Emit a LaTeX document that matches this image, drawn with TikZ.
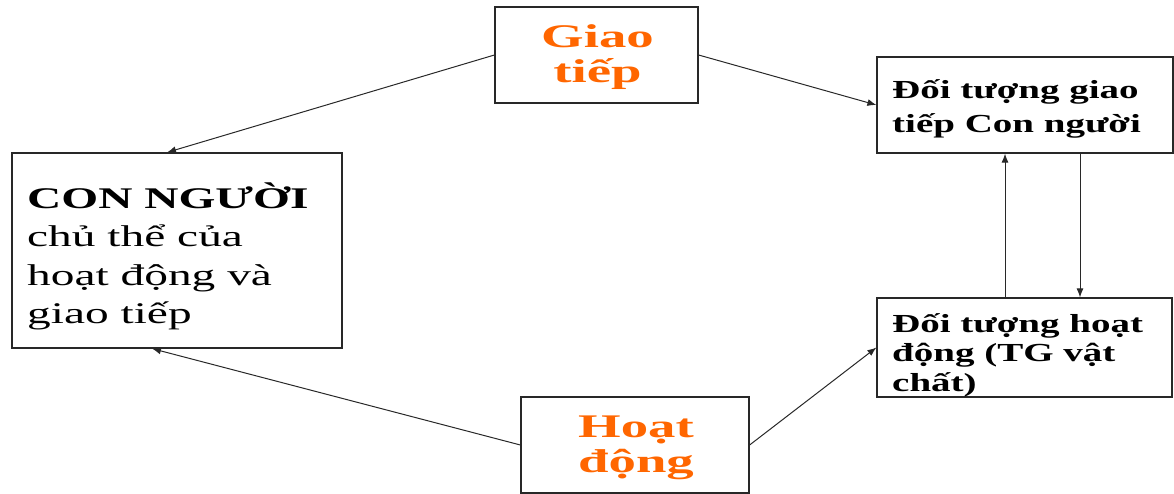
\documentclass[tikz,border=0pt]{standalone}
\usepackage{fontspec}
\setmainfont{Liberation Serif}[FakeStretch=1.58]
\newfontfamily\keyfont{Liberation Serif}[FakeStretch=1.66]
\newfontfamily\objfont{Liberation Serif}[FakeStretch=1.5]
\usetikzlibrary{arrows.meta}
\definecolor{accent}{RGB}{255,102,0}
\definecolor{edge}{RGB}{40,40,40}
\tikzset{
  box/.style={draw=edge, line width=1.2pt, inner sep=0pt},
  % texts are placed by the baseline of their last line
  label text/.style={inner sep=0pt, anchor=base west, align=left},
  key text/.style={inner sep=0pt, anchor=base, align=center, text=accent,
    font=\keyfont\bfseries\fontsize{33}{35}\selectfont},
  link/.style={draw=edge, line width=1pt, -{Latex[length=9pt,width=7pt]}}
}
\begin{document}
\begin{tikzpicture}[x=1pt, y=-1pt]
  \useasboundingbox (0,0) rectangle (1174,493);
  % boxes
  \node[box, minimum width=203pt, minimum height=96pt] (giao) at (596.5,55) {};
  \node[box, minimum width=228pt, minimum height=96pt] (hoat) at (635,445) {};
  \node[box, minimum width=330pt, minimum height=195pt] (con) at (177,250.5) {};
  \node[box, minimum width=296pt, minimum height=96pt] (dtgt) at (1025,105) {};
  \node[box, minimum width=295pt, minimum height=99pt] (dthd) at (1024.5,347.5) {};
  % texts
  \node[key text] (giao-t) at (597.5,82) {Giao\\tiếp};
  \node[key text] (hoat-t) at (636,472) {Hoạt\\động};
  \node[label text, font=\fontsize{30}{38.5}\selectfont] (con-t) at (27,323.5)
        {{\bfseries CON NGƯỜI}\\chủ thể của\\hoạt động và\\giao tiếp};
  \node[label text, font=\objfont\bfseries\fontsize{26}{34}\selectfont] (dtgt-t) at (892,132)
        {Đối tượng giao\\tiếp Con người};
  \node[label text, font=\objfont\bfseries\fontsize{26}{29.5}\selectfont] (dthd-t) at (892,391)
        {Đối tượng hoạt\\động (TG vật\\chất)};
  % connectors
  \draw[link] (giao.west) -- ([xshift=-10pt]con.north);
  \draw[link] (giao.east) -- (dtgt.west);
  \draw[link] (hoat.west) -- ([xshift=-25pt]con.south);
  \draw[link] (hoat.east) -- (dthd.west);
  \draw[link] ([xshift=-19.5pt]dthd.north) -- ([xshift=-20pt]dtgt.south);
  \draw[link] ([xshift=55pt]dtgt.south) -- ([xshift=55.5pt]dthd.north);
\end{tikzpicture}
\end{document}
